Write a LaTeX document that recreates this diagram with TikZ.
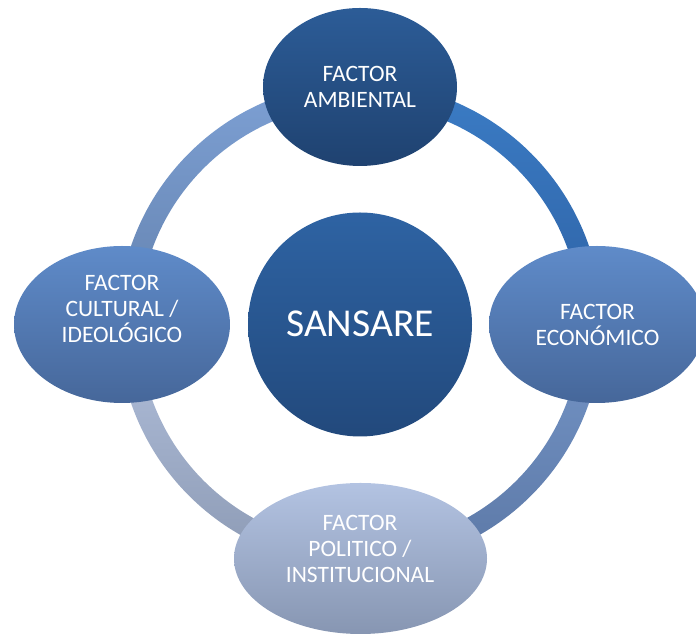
\documentclass[tikz,border=0pt]{standalone}
\usepackage{fontspec}
\setmainfont{Carlito}
\usetikzlibrary{shapes.geometric}
\definecolor{topA}{RGB}{44,92,151}
\definecolor{topB}{RGB}{31,66,112}
\definecolor{midA}{RGB}{46,99,163}
\definecolor{midB}{RGB}{34,73,124}
\definecolor{sideA}{RGB}{95,139,201}
\definecolor{sideB}{RGB}{70,103,154}
\definecolor{botA}{RGB}{179,195,226}
\definecolor{botB}{RGB}{135,150,178}
\definecolor{arcTRa}{RGB}{59,124,197}
\definecolor{arcTRb}{RGB}{46,98,165}
\definecolor{arcTLa}{RGB}{125,160,212}
\definecolor{arcTLb}{RGB}{100,130,174}
\definecolor{arcBLa}{RGB}{178,192,220}
\definecolor{arcBLb}{RGB}{140,154,180}
\definecolor{arcBRa}{RGB}{117,150,200}
\definecolor{arcBRb}{RGB}{92,120,166}
\newcommand\ringpart[4]{%
  \shade[top color=#3,bottom color=#4]
    ([shift={(#1:242)}]c) arc[start angle=#1,end angle=#2,radius=242]
    -- ([shift={(#2:221)}]c) arc[start angle=#2,end angle=#1,radius=221] -- cycle;}
\begin{document}
\begin{tikzpicture}[x=1pt,y=1pt,
  bubble/.style={ellipse,inner sep=0pt,draw=none},
  labeltext/.style={text=white,align=center,inner sep=0pt,
    font=\fontsize{23.5}{26}\selectfont,anchor=north},
]
\useasboundingbox (0,0) rectangle (696,636);
\clip (0,0) rectangle (696,636);
\coordinate (c) at (360,311.5);
% ring
\ringpart{0}{90}{arcTRa}{arcTRb}
\ringpart{90}{180}{arcTLa}{arcTLb}
\ringpart{180}{270}{arcBLa}{arcBLb}
\ringpart{270}{360}{arcBRa}{arcBRb}
% bubbles
\node[bubble,minimum width=224,minimum height=224,top color=midA,bottom color=midB] (center) at (c) {};
\node[bubble,minimum width=194,minimum height=158,top color=topA,bottom color=topB] (top) at (360,549) {};
\node[bubble,minimum width=216,minimum height=157,top color=sideA,bottom color=sideB] (right) at (597,311.5) {};
\node[bubble,minimum width=253,minimum height=151,top color=botA,bottom color=botB] (bottom) at (360.5,77.5) {};
\node[bubble,minimum width=216,minimum height=157,top color=sideA,bottom color=sideB] (left) at (122,311.5) {};
% texts
\node[text=white,inner sep=0pt,anchor=base,font=\fontsize{39.5}{44}\selectfont] (centert) at (360,299.3) {SANSARE};
\node[labeltext] (topt) at (360,570.3) {FACTOR\\AMBIENTAL};
\node[labeltext] (rightt) at (597.5,332) {FACTOR\\ECONÓMICO};
\node[labeltext] (bottomt) at (360,121) {FACTOR\\POLITICO /\\INSTITUCIONAL};
\node[labeltext] (leftt) at (122,361) {FACTOR\\CULTURAL /\\IDEOLÓGICO};
\end{tikzpicture}
\end{document}
